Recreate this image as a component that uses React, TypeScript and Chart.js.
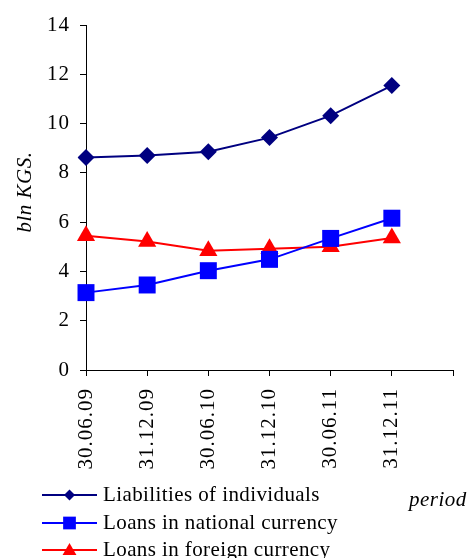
import React, { useEffect, useRef } from "react";
import { Chart, registerables } from "chart.js";

Chart.register(...registerables);

const categories = ["30.06.09", "31.12.09", "30.06.10", "31.12.10", "30.06.11", "31.12.11"];
const axisLabels = [...categories, ""];
const liabilities = [8.62, 8.7, 8.86, 9.43, 10.32, 11.54];
const loansNational = [3.14, 3.45, 4.03, 4.49, 5.34, 6.16];
const loansForeign = [5.45, 5.21, 4.84, 4.92, 5.0, 5.36];
const seriesNames = ["Liabilities of individuals", "Loans in national currency", "Loans in foreign currency"];
const yTicks = [0, 2, 4, 6, 8, 10, 12, 14];
const yTitle = "bln KGS.";
const xTitle = "period";

const FONT = "'Liberation Serif', 'Times New Roman', serif";
const NAVY = "#000080";
const BLUE = "#0000FF";
const RED = "#FF0000";

function drawMarker(ctx: CanvasRenderingContext2D, style: string, x: number, y: number, r: number, color: string) {
  ctx.save();
  ctx.fillStyle = color;
  ctx.beginPath();
  if (style === "rectRot") {
    ctx.moveTo(x, y - r);
    ctx.lineTo(x + r, y);
    ctx.lineTo(x, y + r);
    ctx.lineTo(x - r, y);
  } else if (style === "rect") {
    const s = r * Math.SQRT1_2;
    ctx.rect(x - s, y - s, 2 * s, 2 * s);
  } else {
    let a = 0;
    ctx.moveTo(x + Math.sin(a) * r, y - Math.cos(a) * r);
    a += (2 * Math.PI) / 3;
    ctx.lineTo(x + Math.sin(a) * r, y - Math.cos(a) * r);
    a += (2 * Math.PI) / 3;
    ctx.lineTo(x + Math.sin(a) * r, y - Math.cos(a) * r);
  }
  ctx.closePath();
  ctx.fill();
  ctx.restore();
}

const spacingPlugin = {
  id: "letterSpacing",
  beforeDraw(chart: any) {
    (chart.ctx as any).letterSpacing = "1px";
  },
};

const legendPlugin = {
  id: "customLegend",
  afterDraw(chart: any) {
    const ctx: CanvasRenderingContext2D = chart.ctx;
    const items = [
      { name: seriesNames[0], color: NAVY, style: "rectRot", r: 5.5 },
      { name: seriesNames[1], color: BLUE, style: "rect", r: 9 },
      { name: seriesNames[2], color: RED, style: "triangle", r: 8 },
    ];
    const rows = [495, 523, 550];
    ctx.save();
    items.forEach((it, i) => {
      const y = rows[i];
      ctx.strokeStyle = it.color;
      ctx.lineWidth = 2;
      ctx.beginPath();
      ctx.moveTo(42, y);
      ctx.lineTo(97, y);
      ctx.stroke();
      drawMarker(ctx, it.style, 69.5, it.style === "triangle" ? y + 1 : y, it.r, it.color);
      ctx.fillStyle = "#000";
      ctx.font = `21px ${FONT}`;
      (ctx as any).letterSpacing = "0.4px";
      ctx.textBaseline = "middle";
      ctx.textAlign = "left";
      ctx.fillText(it.name, 103, y);
    });
    (ctx as any).letterSpacing = "0.5px";
    ctx.font = `italic 21px ${FONT}`;
    ctx.textBaseline = "middle";
    ctx.fillText(xTitle, 409, 500);
    // y axis title
    ctx.translate(25, 192);
    ctx.rotate(-Math.PI / 2);
    ctx.textAlign = "center";
    ctx.fillText(yTitle, 0, 0);
    ctx.restore();
  },
};

export default function App() {
  const ref = useRef<HTMLCanvasElement | null>(null);
  useEffect(() => {
    if (!ref.current) return;
    Chart.defaults.color = "#000";
    const chart = new Chart(ref.current, {
      type: "line",
      data: {
        labels: axisLabels,
        datasets: [
          {
            label: seriesNames[0],
            data: liabilities,
            borderColor: NAVY,
            backgroundColor: NAVY,
            borderWidth: 2,
            pointStyle: "rectRot",
            pointRadius: 8.5,
            pointBorderWidth: 0,
          },
          {
            label: seriesNames[1],
            data: loansNational,
            borderColor: BLUE,
            backgroundColor: BLUE,
            borderWidth: 2,
            pointStyle: "rect",
            pointRadius: 12,
            pointBorderWidth: 0,
          },
          {
            label: seriesNames[2],
            data: loansForeign,
            borderColor: RED,
            backgroundColor: RED,
            borderWidth: 2,
            pointStyle: "triangle",
            pointRadius: 10.5,
            pointBorderWidth: 0,
          },
        ],
      },
      options: {
        animation: false,
        responsive: false,
        layout: { padding: { top: 25, right: 16, left: 0, bottom: 0 } },
        plugins: { legend: { display: false }, tooltip: { enabled: false } },
        scales: {
          x: {
            type: "category",
            offset: false,
            grid: { drawOnChartArea: false, drawTicks: true, tickLength: 6, color: "#000" },
            border: { color: "#000", width: 1 },
            ticks: {
              autoSkip: false,
              minRotation: 90,
              maxRotation: 90,
              padding: 12,
              font: { family: FONT, size: 21 },
              color: "#000",
            },
            afterFit: (s: any) => {
              s.height = 188;
              s.paddingLeft = 0;
              s.paddingRight = 0;
            },
          },
          y: {
            min: 0,
            max: 14,
            afterBuildTicks: (s: any) => {
              s.ticks = yTicks.map((v) => ({ value: v }));
            },
            grid: { drawOnChartArea: false, drawTicks: true, tickLength: 6, color: "#000" },
            border: { color: "#000", width: 1 },
            ticks: { padding: 10, font: { family: FONT, size: 21 }, color: "#000" },
            afterFit: (s: any) => {
              s.width = 86;
              s.paddingTop = 0;
              s.paddingBottom = 0;
            },
          },
        },
      },
      plugins: [spacingPlugin, legendPlugin],
    });
    return () => chart.destroy();
  }, []);
  return (
    <div style={{ position: "fixed", left: 0, top: 0, width: 469, height: 558, background: "#fff" }}>
      <canvas ref={ref} width={469} height={558} style={{ width: 469, height: 558, display: "block" }} />
    </div>
  );
}
